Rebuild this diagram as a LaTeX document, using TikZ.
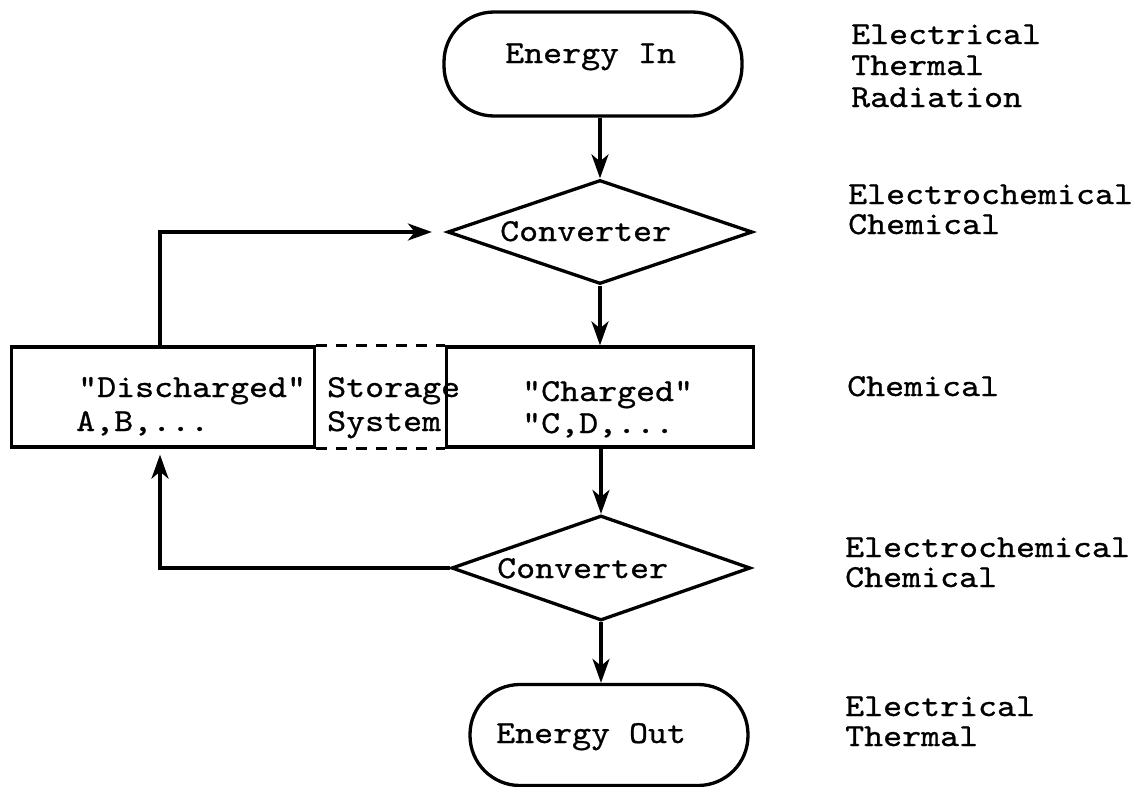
\documentclass[tikz,border=0pt]{standalone}
\usepackage{fontspec}
\newfontfamily\cour{lmmono10-regular.otf}[FakeBold=0.8,FakeStretch=1.13]
\usetikzlibrary{shapes.geometric,arrows.meta}
\tikzset{
  base/.style={draw, line width=3.3pt, inner sep=0pt},
  stadium/.style={base, rectangle, rounded corners=50pt},
  decision/.style={base, diamond},
  boxnode/.style={base, rectangle},
  txt/.style={font=\cour\fontsize{32}{32}\selectfont, inner sep=0pt, anchor=base west},
  arr/.style={line width=3.3pt, -{Stealth[length=24pt,width=17pt,inset=7pt]}},
  dashline/.style={line width=2.5pt, dash pattern=on 11pt off 9pt}
}
\begin{document}
\begin{tikzpicture}[x=1pt,y=-1pt]
\useasboundingbox (0,0) rectangle (1138,787);
% shapes
\node[stadium, minimum width=298pt, minimum height=104pt] (in) at (593,64) {};
\node[txt] (intxt) at (505,63) {Energy In};
\node[decision, minimum width=305pt, minimum height=104pt] (d1) at (600,232) {};
\node[txt] (d1txt) at (500,241) {Converter};
\node[boxnode, minimum width=307pt, minimum height=100pt] (ch) at (600,397) {};
\node[txt] (chtxt1) at (522,401) {"Charged"};
\node[txt] (chtxt2) at (522,433) {"C,D,...};
\node[boxnode, minimum width=303pt, minimum height=100pt] (dis) at (163,397) {};
\node[txt] (distxt1) at (78,397) {"Discharged"};
\node[txt] (distxt2) at (76,431) {A,B,...};
\node[txt] (stor1) at (327,397) {Storage};
\node[txt] (stor2) at (327,431) {System};
\node[decision, minimum width=299pt, minimum height=105pt] (d2) at (601,568) {};
\node[txt] (d2txt) at (497,578) {Converter};
\node[stadium, minimum width=278pt, minimum height=101pt] (out) at (609,735) {};
\node[txt] (outtxt) at (496,743) {Energy Out};
% side labels
\node[txt] (l1a) at (851,44) {Electrical};
\node[txt] (l1b) at (851,75) {Thermal};
\node[txt] (l1c) at (851,107) {Radiation};
\node[txt] (l2a) at (848,204) {Electrochemical};
\node[txt] (l2b) at (848,234) {Chemical};
\node[txt] (l3) at (847,396) {Chemical};
\node[txt] (l4a) at (845,557) {Electrochemical};
\node[txt] (l4b) at (845,587) {Chemical};
\node[txt] (l5a) at (845,716) {Electrical};
\node[txt] (l5b) at (845,746) {Thermal};
% connectors
\draw[arr] (in.south -| d1.north) -- (d1.north);
\draw[arr] (d1.south) -- (ch.north -| d1.south);
\draw[arr] (ch.south -| d2.north) -- (d2.north);
\draw[arr] (d2.south) -- (out.north -| d2.south);
\coordinate (loopend) at ([xshift=-14pt]d1.west);
\draw[arr] ([xshift=-3pt]dis.north) |- (loopend);
\coordinate (loopend2) at ([xshift=-3pt,yshift=-6pt]dis.south);
\draw[arr] (d2.west) -| (loopend2);
\draw[dashline] (dis.north east) -- (ch.north west);
\draw[dashline] (dis.south east) -- (ch.south west);
\end{tikzpicture}
\end{document}
